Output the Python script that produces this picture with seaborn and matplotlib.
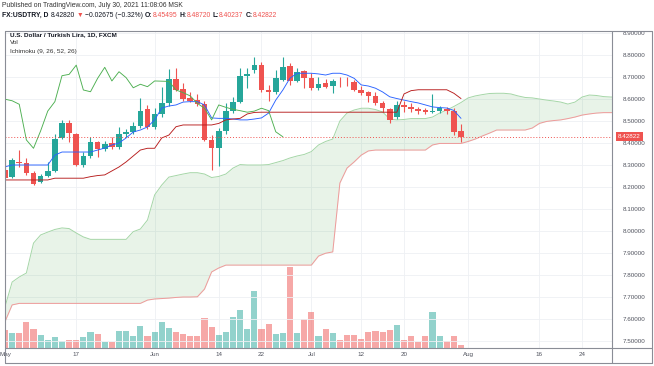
import numpy as np
import matplotlib
matplotlib.use("Agg")
import matplotlib.pyplot as plt
import seaborn as sns
from matplotlib.lines import Line2D

# ---------------- data ----------------
# trading-day index (0 = May 3, 2021 ... 64 = Jul 30, 2021)
opens = [8.277, 8.247, 8.315, 8.310, 8.262, 8.224, 8.250, 8.273, 8.421, 8.491,
         8.442, 8.300, 8.342, 8.403, 8.371, 8.399, 8.380, 8.443, 8.451, 8.479,
         8.555, 8.471, 8.530, 8.580, 8.690, 8.645, 8.603, 8.595, 8.576, 8.414,
         8.379, 8.455, 8.545, 8.588, 8.706, 8.732, 8.754, 8.641, 8.633, 8.686,
         8.751, 8.682, 8.727, 8.697, 8.651, 8.671, 8.659, 8.683, 8.682, 8.679,
         8.641, 8.630, 8.614, 8.580, 8.553, 8.517, 8.573, 8.564, 8.555, 8.550,
         8.543, 8.547, 8.555, 8.547, 8.45495]
highs = [8.332, 8.333, 8.368, 8.330, 8.273, 8.259, 8.315, 8.440, 8.505, 8.505,
         8.445, 8.358, 8.429, 8.410, 8.410, 8.429, 8.474, 8.462, 8.497, 8.606,
         8.573, 8.560, 8.656, 8.736, 8.740, 8.671, 8.630, 8.625, 8.590, 8.436,
         8.470, 8.580, 8.610, 8.740, 8.740, 8.792, 8.770, 8.664, 8.730, 8.792,
         8.765, 8.740, 8.730, 8.720, 8.700, 8.690, 8.690, 8.700, 8.700, 8.685,
         8.660, 8.638, 8.632, 8.590, 8.560, 8.590, 8.590, 8.580, 8.565, 8.560,
         8.623, 8.570, 8.565, 8.560, 8.48720]
lows = [8.236, 8.241, 8.290, 8.255, 8.209, 8.220, 8.245, 8.270, 8.417, 8.406,
        8.295, 8.292, 8.330, 8.338, 8.364, 8.375, 8.372, 8.425, 8.440, 8.470,
        8.465, 8.465, 8.520, 8.570, 8.636, 8.590, 8.585, 8.570, 8.408, 8.277,
        8.295, 8.440, 8.535, 8.580, 8.649, 8.720, 8.630, 8.590, 8.625, 8.683,
        8.665, 8.676, 8.649, 8.640, 8.640, 8.650, 8.626, 8.655, 8.660, 8.636,
        8.620, 8.588, 8.575, 8.540, 8.492, 8.510, 8.540, 8.540, 8.530, 8.530,
        8.535, 8.535, 8.530, 8.436, 8.40237]
closes = [8.242, 8.323, 8.308, 8.262, 8.212, 8.250, 8.273, 8.417, 8.489, 8.444,
          8.300, 8.341, 8.403, 8.371, 8.395, 8.380, 8.441, 8.449, 8.477, 8.545,
          8.471, 8.530, 8.580, 8.690, 8.641, 8.599, 8.592, 8.576, 8.414, 8.376,
          8.455, 8.545, 8.588, 8.706, 8.712, 8.754, 8.641, 8.633, 8.694, 8.744,
          8.682, 8.724, 8.697, 8.651, 8.667, 8.656, 8.682, 8.681, 8.680, 8.641,
          8.629, 8.614, 8.580, 8.558, 8.505, 8.573, 8.562, 8.553, 8.547, 8.540,
          8.545, 8.558, 8.547, 8.451, 8.42822]
volume = [18.3, 15, 15, 25.6, 19, 13.3, 7.6, 11, 6.6, 8.3,
          8.3, 11, 15.6, 14.3, 6.3, 6, 17.3, 17.3, 11.6, 22.3,
          12.3, 16.3, 26, 20.3, 16.3, 13.6, 12.3, 12.3, 30.3, 21.3,
          12.6, 16.3, 31.3, 38, 18.6, 56.6, 19.3, 24.3, 13.6, 15.3,
          81, 14.6, 28.6, 36, 11.6, 18.6, 15, 8.3, 13.3, 13.3,
          9.3, 15.6, 17.3, 15.6, 17.6, 23.3, 8.3, 11.6, 6, 11.6,
          36, 12.3, 7.3, 12.3, 3]
conversion = [8.292, 8.300, 8.300, 8.300, 8.300, 8.300, 8.300, 8.345, 8.359, 8.359,
              8.359, 8.359, 8.359, 8.368, 8.377, 8.391, 8.400, 8.423, 8.450, 8.459,
              8.473, 8.505, 8.559, 8.568, 8.573, 8.586, 8.588, 8.588, 8.573, 8.514,
              8.512, 8.512, 8.509, 8.505, 8.505, 8.509, 8.514, 8.536, 8.595, 8.641,
              8.695, 8.717, 8.717, 8.717, 8.714, 8.709, 8.717, 8.717, 8.709, 8.694,
              8.664, 8.659, 8.649, 8.632, 8.610, 8.602, 8.595, 8.588, 8.582, 8.573,
              8.564, 8.561, 8.559, 8.548, 8.512]
base = [8.232, 8.232, 8.232, 8.232, 8.232, 8.232, 8.232, 8.240, 8.240, 8.240,
        8.240, 8.240, 8.247, 8.252, 8.255, 8.273, 8.291, 8.314, 8.341, 8.368,
        8.376, 8.376, 8.423, 8.436, 8.474, 8.482, 8.482, 8.482, 8.482, 8.482,
        8.489, 8.505, 8.509, 8.512, 8.532, 8.539, 8.540, 8.540, 8.540, 8.540,
        8.540, 8.540, 8.540, 8.540, 8.540, 8.540, 8.540, 8.540, 8.540, 8.540,
        8.540, 8.540, 8.540, 8.540, 8.540, 8.540, 8.623, 8.638, 8.642, 8.642,
        8.642, 8.642, 8.642, 8.626, 8.602]
span_a = [7.656, 7.768, 7.791, 7.809, 7.945, 7.982, 7.995, 8.007, 8.014, 8.011,
          7.991, 7.973, 7.962, 7.962, 7.962, 7.962, 7.962, 7.962, 7.997, 8.009,
          8.050, 8.164, 8.209, 8.245, 8.252, 8.259, 8.265, 8.265, 8.259, 8.243,
          8.248, 8.259, 8.286, 8.302, 8.300, 8.300, 8.300, 8.302, 8.311, 8.320,
          8.332, 8.341, 8.348, 8.361, 8.391, 8.407, 8.418, 8.500, 8.536, 8.550,
          8.558, 8.558, 8.552, 8.541, 8.509, 8.505, 8.507, 8.511, 8.511, 8.511,
          8.518, 8.536, 8.550, 8.566, 8.584, 8.605, 8.614, 8.620, 8.625, 8.626,
          8.626, 8.623, 8.614, 8.607, 8.605, 8.600, 8.595, 8.591, 8.586, 8.577,
          8.586, 8.609, 8.618, 8.616, 8.611, 8.609, 8.608]
span_b = [7.588, 7.664, 7.671, 7.671, 7.671, 7.671, 7.671, 7.671, 7.671, 7.671,
          7.671, 7.671, 7.671, 7.671, 7.671, 7.671, 7.671, 7.671, 7.671, 7.671,
          7.686, 7.691, 7.693, 7.695, 7.698, 7.700, 7.700, 7.701, 7.736, 7.814,
          7.832, 7.845, 7.845, 7.845, 7.845, 7.845, 7.845, 7.845, 7.845, 7.845,
          7.845, 7.845, 7.845, 7.845, 7.886, 7.899, 7.905, 8.218, 8.286, 8.314,
          8.345, 8.364, 8.368, 8.368, 8.368, 8.368, 8.368, 8.368, 8.368, 8.368,
          8.391, 8.398, 8.398, 8.398, 8.398, 8.407, 8.418, 8.432, 8.445, 8.459,
          8.459, 8.459, 8.459, 8.459, 8.468, 8.489, 8.498, 8.502, 8.505, 8.511,
          8.518, 8.527, 8.532, 8.536, 8.538, 8.538, 8.538]
lagging_shift = 25
last_price = 8.42822
tick_idx = [0, 10, 21, 30, 36, 43, 50, 56, 65, 75, 81]
tick_lbl = ["May", "17", "Jun", "14", "22", "Jul", "12", "20", "Aug", "16", "24"]
price_ticks = [7.5, 7.6, 7.7, 7.8, 7.9, 8.0, 8.1, 8.2, 8.3, 8.4, 8.5, 8.6, 8.7, 8.8, 8.9]

# ---------------- style ----------------
sns.set_theme(style="white")
plt.rcParams["font.family"] = ["Liberation Sans", "DejaVu Sans"]

UP, DN = "#26a69a", "#ef5350"
TXT = "#131722"
AX_TXT = "#50535e"

W, H = 654, 366
fig = plt.figure(figsize=(W / 100, H / 100), dpi=100)
fig.patch.set_facecolor("white")


def fx(px):
    return px / W


def fy(py):
    return 1 - py / H


L, R, T, B = 5, 612, 30.7, 348
axv = fig.add_axes([fx(L), fy(B), fx(R) - fx(L), fy(T) - fy(B)])
ax = axv.twinx()
ax.patch.set_visible(False)

o = np.array(opens); c = np.array(closes); h = np.array(highs); lo = np.array(lows)
k = np.arange(len(o))
up = c >= o
cols = np.where(up, UP, DN)

# volume (behind)
axv.bar(k, volume, width=0.86, color=cols, alpha=0.5, linewidth=0)
axv.set_ylim(0, B - T)
axv.set_yticks([])
axv.set_xticks(tick_idx)
axv.set_xticklabels(tick_lbl)
axv.tick_params(axis="x", length=0, pad=3.2, labelsize=4.5, labelcolor=AX_TXT)
axv.grid(True, axis="x", color="#eef0f4", lw=0.6)
for s in axv.spines.values():
    s.set_visible(False)

# cloud
ks = np.arange(len(span_a))
ax.fill_between(ks, span_a, span_b, color="#43a047", alpha=0.12, lw=0, zorder=1)
sns.lineplot(x=ks, y=span_a, ax=ax, color="#a5d6a7", lw=0.7, zorder=2)
sns.lineplot(x=ks, y=span_b, ax=ax, color="#ef9a9a", lw=0.7, zorder=2)

# candles
ax.vlines(k, lo, h, colors=cols, lw=0.8, zorder=3)
body = np.maximum(np.abs(c - o), 0.0018)
ax.bar(k, body, bottom=np.minimum(o, c), width=0.78, color=cols, linewidth=0, zorder=4)

# ichimoku lines
sns.lineplot(x=k, y=conversion, ax=ax, color="#2962ff", lw=0.65, zorder=5)
sns.lineplot(x=k, y=base, ax=ax, color="#b71c1c", lw=0.65, zorder=5)
lag_y = closes[lagging_shift:]
sns.lineplot(x=k[:len(lag_y)], y=lag_y, ax=ax, color="#4caf50", lw=0.65, zorder=5)

# last price line
ax.axhline(last_price, color=DN, ls=(0, (1, 2)), lw=0.7, zorder=6)

ax.set_xlim(0, (R - L) / 7.125)
ax.set_ylim(8.90 - (B - 33) / 220, 8.90 + (33 - T) / 220)
ax.set_yticks(price_ticks)
ax.yaxis.set_major_formatter(matplotlib.ticker.StrMethodFormatter("{x:.5f}"))
ax.tick_params(axis="y", length=0, pad=7.5, labelsize=4.5, labelcolor=AX_TXT)
ax.grid(True, axis="y", color="#eef0f4", lw=0.6, zorder=0)
ax.set_axisbelow(True)
for s in ax.spines.values():
    s.set_visible(False)

ax.annotate(f"{last_price:.5f}", xy=(1.0, last_price), xycoords=ax.get_yaxis_transform(),
            xytext=(4.2, 0), textcoords="offset points", ha="left", va="center",
            fontsize=4.5, color="white", annotation_clip=False, zorder=20,
            bbox=dict(boxstyle="square,pad=0.35", fc=DN, ec=DN, lw=0))

# frame lines
FR = "#8a8d96"
for (x0, y0, x1, y1) in [(L, T, 652, T), (L, T, L, 363), (L, 363, 652, 363), (652, T, 652, 363),
                         (R, T, R, 363), (L, B, 652, B)]:
    fig.add_artist(Line2D([fx(x0), fx(x1)], [fy(y0), fy(y1)], color=FR, lw=0.8))

# header texts
fig.text(fx(2), fy(5.5), "Published on TradingView.com, July 30, 2021 11:08:06 MSK",
         fontsize=4.9, color="#333333", va="center", ha="left")

renderer = fig.canvas.get_renderer()


def seq(x, y, pieces, size):
    for s, col, wt, gap in pieces:
        t = fig.text(fx(x), fy(y), s, fontsize=size, color=col, fontweight=wt,
                     va="center", ha="left")
        x += t.get_window_extent(renderer).width + gap


SP = 2.0
seq(2, 15.5, [("FX:USDTRY, D", TXT, "bold", SP), ("8.42820", TXT, "normal", SP),
              ("▼", DN, "normal", SP), ("−0.02675 (−0.32%)", TXT, "normal", SP),
              ("O:", TXT, "bold", 0), ("8.45495", DN, "normal", SP),
              ("H:", TXT, "bold", 0), ("8.48720", DN, "normal", SP),
              ("L:", TXT, "bold", 0), ("8.40237", DN, "normal", SP),
              ("C:", TXT, "bold", 0), ("8.42822", DN, "normal", 0)], 4.9)

fig.text(fx(10), fy(34.5), "U.S. Dollar / Turkish Lira, 1D, FXCM", fontsize=4.6,
         fontweight="bold", color=TXT, va="center", ha="left")
fig.text(fx(10), fy(43), "Vol", fontsize=4.6, color="#333333", va="center", ha="left")
fig.text(fx(10), fy(51.7), "Ichimoku (9, 26, 52, 26)", fontsize=4.6, color="#333333",
         va="center", ha="left")

fig.savefig("out.png", dpi=100, facecolor="white")
